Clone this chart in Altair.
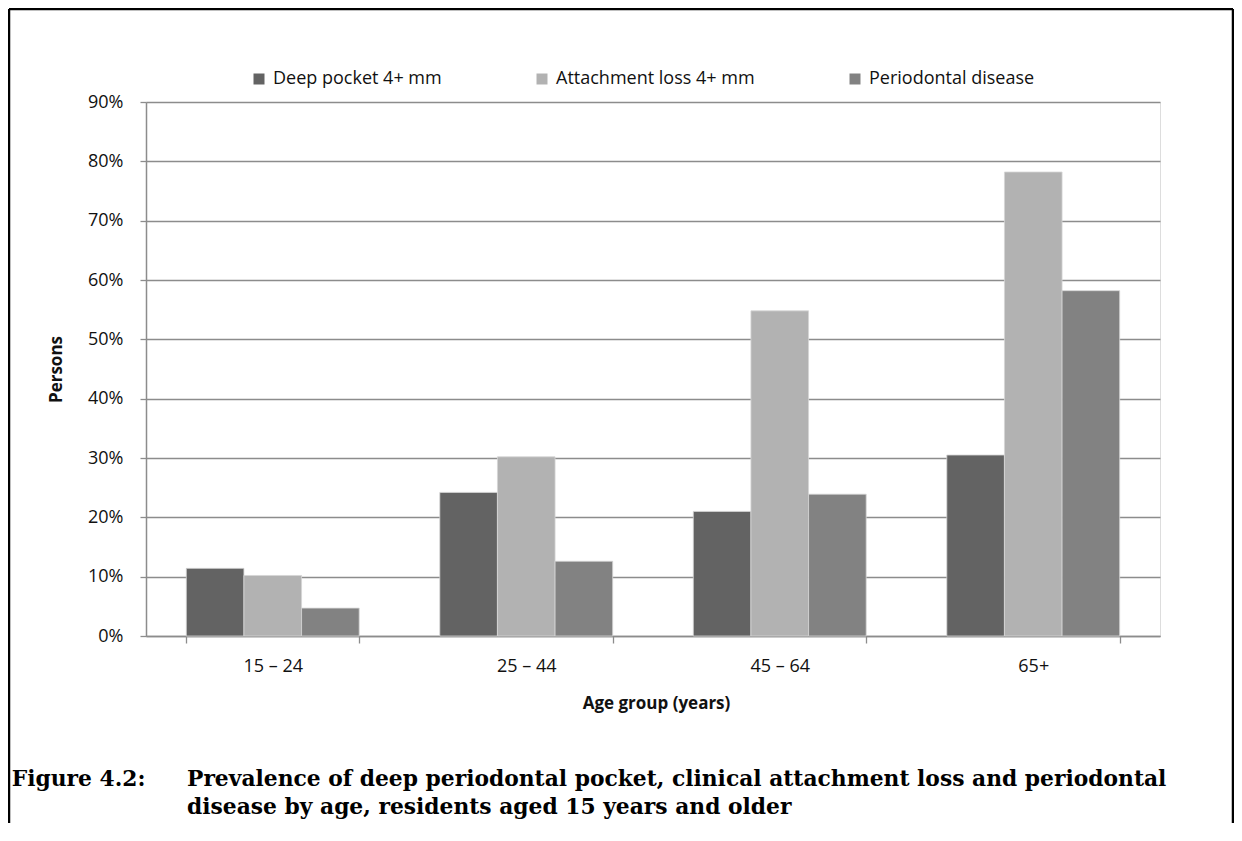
import altair as alt
import pandas as pd

# ---- data ----
age_groups = ["15 – 24", "25 – 44", "45 – 64", "65+"]
series_names = ["Deep pocket 4+ mm", "Attachment loss 4+ mm", "Periodontal disease"]
deep_pocket = [0.114, 0.242, 0.210, 0.305]
attachment_loss = [0.102, 0.302, 0.548, 0.782]
periodontal_disease = [0.047, 0.126, 0.239, 0.582]
series_colors = ["#636363", "#b2b2b2", "#828282"]
y_ticks = [0, 0.1, 0.2, 0.3, 0.4, 0.5, 0.6, 0.7, 0.8, 0.9]

caption_label = "Figure 4.2:"
caption_line1 = "Prevalence of deep periodontal pocket, clinical attachment loss and periodontal"
caption_line2 = "disease by age, residents aged 15 years and older"

rows = []
for name, vals in zip(series_names, [deep_pocket, attachment_loss, periodontal_disease]):
    for a, v in zip(age_groups, vals):
        rows.append({"age": a, "series": name, "value": v})
df = pd.DataFrame(rows)

W, H = 1014, 534
PAD = {"left": 138, "top": 94, "right": 74, "bottom": 187}
FONT = "Open Sans"

bars = alt.Chart(df).mark_bar(stroke="#d6d6d6", strokeWidth=0.8).encode(
    x=alt.X("age:N", sort=age_groups,
            scale=alt.Scale(paddingInner=0.318, paddingOuter=0.159),
            axis=alt.Axis(title="Age  group (years)", labelAngle=0, tickBand="extent",
                          tickSize=7, tickColor="#8c8c8c", tickWidth=1.3,
                          domainColor="#8c8c8c", domainWidth=1.5,
                          labelFont=FONT, labelFontSize=18, labelColor="#111",
                          labelBaseline="middle", labelPadding=23,
                          titleFont=FONT, titleFontSize=17, titleFontWeight="bold",
                          titleColor="#111", titleX=510, titleY=72,
                          titleAlign="center", titleBaseline="alphabetic")),
    xOffset=alt.XOffset("series:N", sort=series_names,
                        scale=alt.Scale(paddingInner=0, paddingOuter=0)),
    y=alt.Y("value:Q", scale=alt.Scale(domain=[0, 0.9], nice=False),
            axis=alt.Axis(title="Persons", values=y_ticks, format=".0%",
                          grid=True, gridColor="#8c8c8c", gridWidth=1.3,
                          tickSize=6, tickColor="#8c8c8c", tickWidth=1.3,
                          domainColor="#8c8c8c", domainWidth=1.5,
                          labelFont=FONT, labelFontSize=18, labelColor="#111",
                          labelPadding=17,
                          titleFont=FONT, titleFontSize=17, titleFontWeight="bold",
                          titleColor="#111", titleX=-90, titleY=H / 2,
                          titleAlign="center", titleBaseline="middle", titleAngle=270)),
    color=alt.Color("series:N", sort=series_names,
                    scale=alt.Scale(domain=series_names, range=series_colors),
                    legend=alt.Legend(title=None, orient="none", direction="horizontal",
                                      legendX=104, legendY=-32,
                                      symbolType="square", symbolSize=121,
                                      symbolStrokeWidth=0, labelOffset=5,
                                      columnPadding=91, labelLimit=500,
                                      labelFont=FONT, labelFontSize=18,
                                      labelColor="#111")),
)

one = alt.Data(values=[{"k": 1}])

def rule(x1, y1, x2, y2):
    return alt.Chart(one).mark_rule(color="#000", strokeWidth=2.5).encode(
        x=alt.value(x1), y=alt.value(y1), x2=alt.value(x2), y2=alt.value(y2))

total_w = W + PAD["left"] + PAD["right"]
total_h = H + PAD["top"] + PAD["bottom"]
left = -PAD["left"] + 1
right = total_w - PAD["left"] - 1
top = -PAD["top"] + 1
bottom = total_h - PAD["top"]

frame = rule(left, top, right, top) + rule(left, top, left, bottom) + rule(right, top, right, bottom)

def caption(text, x, y):
    return alt.Chart(pd.DataFrame({"t": [text]})).mark_text(
        align="left", baseline="alphabetic", font="DejaVu Serif",
        fontWeight="bold", fontSize=21.8, color="#000").encode(
        x=alt.value(x), y=alt.value(y), text="t:N")

cap = (caption(caption_label, 11.7 - 146, 684)
       + caption(caption_line1, 187 - 146, 684)
       + caption(caption_line2, 187 - 146, 712))

chart = alt.layer(bars, frame, cap).properties(
    width=W, height=H, padding=PAD,
    autosize=alt.AutoSizeParams(type="none"),
).configure_view(stroke=None).configure(background="white")

chart.save("out.html", embed_options={"renderer": "svg", "actions": False})
